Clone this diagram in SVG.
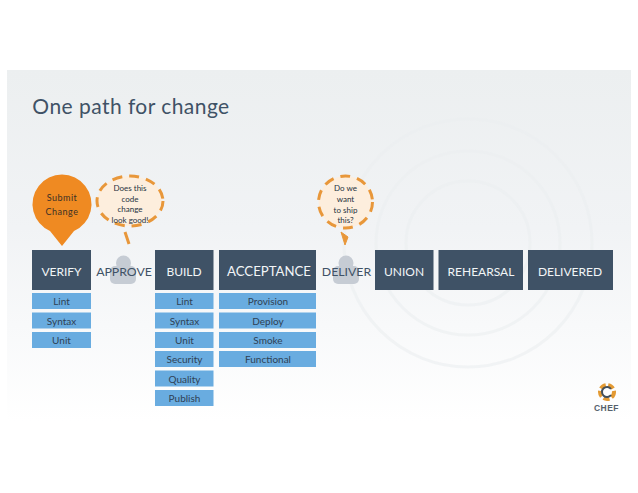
<svg xmlns="http://www.w3.org/2000/svg" width="638" height="493" viewBox="0 0 638 493">
<defs>
<linearGradient id="bg" x1="0" y1="0" x2="0" y2="1">
<stop offset="0" stop-color="#eceff0"/><stop offset="0.45" stop-color="#f1f3f5"/><stop offset="1" stop-color="#ffffff"/>
</linearGradient>
</defs>
<style>
text{font-family:"Lato","Liberation Sans",sans-serif;text-anchor:middle}
.stage{fill:#3f5266}
.stage-t{fill:#f2f5f7;font-size:12px}
.plain-t{fill:#3f5266;font-size:12.300px}
.sub{fill:#69ace0}
.sub-t{fill:#2f4154;font-size:10px}
.bubble{fill:#fdeedd;stroke:#e8973a;stroke-width:3;stroke-dasharray:10 7}
.tail{fill:none;stroke:#e8973a;stroke-width:3}
.b-t{fill:#26323d;font-size:8px}
.person{fill:#c6ccd4}
.wm{fill:none;stroke:#ebeef0;stroke-width:3;opacity:.6}
</style>
<rect width="638" height="493" fill="#fff"/>
<rect x="7" y="70" width="624" height="352" fill="url(#bg)"/>
<g id="watermark">
<circle class="wm" cx="468" cy="243" r="62"/>
<circle class="wm" cx="468" cy="243" r="92"/>
<circle class="wm" cx="468" cy="243" r="124"/>
</g>
<text x="131" y="114" style="font-size:21px;fill:#3f5266;letter-spacing:.45px">One path for change</text>
<g id="submit"><path d="M62 246 L50 231 A29.5 29.5 0 1 1 74 231 Z" fill="#ef8a22"/><text x="62" y="201" style="font-size:9px;fill:#3b3026;letter-spacing:.5px">Submit</text><text x="62" y="214.500" style="font-size:9px;fill:#3b3026;letter-spacing:.5px">Change</text></g>
<g id="approve-person"><circle class="person" cx="123.500" cy="263" r="7.500"/><rect class="person" x="110" y="266" width="26" height="18" rx="5"/></g>
<g id="deliver-person"><circle class="person" cx="346" cy="263" r="7.500"/><rect class="person" x="333" y="266" width="26" height="18" rx="5"/></g>
<g id="verify"><rect class="stage" x="32" y="250" width="59" height="40"/><text class="stage-t" x="61.500" y="276">VERIFY</text></g>
<g id="approve"><text class="plain-t" x="124" y="276">APPROVE</text></g>
<g id="build"><rect class="stage" x="155" y="250" width="58.500" height="40"/><text class="stage-t" x="184" y="276">BUILD</text></g>
<g id="acceptance"><rect class="stage" x="219" y="250" width="97" height="40"/><text class="stage-t" x="269" y="276" style="font-size:13.200px">ACCEPTANCE</text></g>
<g id="deliver"><text class="plain-t" x="346.500" y="276">DELIVER</text></g>
<g id="union"><rect class="stage" x="375" y="250" width="58.500" height="40"/><text class="stage-t" x="404" y="276">UNION</text></g>
<g id="rehearsal"><rect class="stage" x="438.500" y="250" width="84.500" height="40"/><text class="stage-t" x="481" y="276">REHEARSAL</text></g>
<g id="delivered"><rect class="stage" x="528" y="250" width="85" height="40"/><text class="stage-t" x="570" y="276">DELIVERED</text></g>
<g id="verify-lint"><rect class="sub" x="32" y="293" width="59" height="16"/><text class="sub-t" x="61.500" y="305">Lint</text></g>
<g id="verify-syntax"><rect class="sub" x="32" y="312.500" width="59" height="16"/><text class="sub-t" x="61.500" y="324.500">Syntax</text></g>
<g id="verify-unit"><rect class="sub" x="32" y="332" width="59" height="16"/><text class="sub-t" x="61.500" y="344">Unit</text></g>
<g id="build-lint"><rect class="sub" x="155" y="293" width="58.500" height="16"/><text class="sub-t" x="184.500" y="305">Lint</text></g>
<g id="build-syntax"><rect class="sub" x="155" y="312.500" width="58.500" height="16"/><text class="sub-t" x="184.500" y="324.500">Syntax</text></g>
<g id="build-unit"><rect class="sub" x="155" y="332" width="58.500" height="16"/><text class="sub-t" x="184.500" y="344">Unit</text></g>
<g id="build-security"><rect class="sub" x="155" y="351" width="58.500" height="16"/><text class="sub-t" x="184.500" y="363">Security</text></g>
<g id="build-quality"><rect class="sub" x="155" y="370.500" width="58.500" height="16"/><text class="sub-t" x="184.500" y="382.500">Quality</text></g>
<g id="build-publish"><rect class="sub" x="155" y="390" width="58.500" height="16"/><text class="sub-t" x="184.500" y="402">Publish</text></g>
<g id="acc-provision"><rect class="sub" x="219" y="293" width="97" height="16"/><text class="sub-t" x="268" y="305">Provision</text></g>
<g id="acc-deploy"><rect class="sub" x="219" y="312.500" width="97" height="16"/><text class="sub-t" x="268" y="324.500">Deploy</text></g>
<g id="acc-smoke"><rect class="sub" x="219" y="332" width="97" height="16"/><text class="sub-t" x="268" y="344">Smoke</text></g>
<g id="acc-functional"><rect class="sub" x="219" y="351" width="97" height="16"/><text class="sub-t" x="268" y="363">Functional</text></g>
<g id="code-bubble"><ellipse class="bubble" cx="130" cy="201" rx="33" ry="25"/><path class="tail" d="M125 232 L129 244"/><text class="b-t" x="130" y="191">Does this</text><text class="b-t" x="130" y="202">code</text><text class="b-t" x="130" y="212">change</text><text class="b-t" x="130" y="223">look good!</text></g>
<g id="ship-bubble"><ellipse class="bubble" cx="345.500" cy="202" rx="27" ry="26"/><path d="M341 232 L345 245 L348 237 Z" fill="#e8973a" stroke="#e8973a" stroke-width="1"/><text class="b-t" x="345.500" y="191">Do we</text><text class="b-t" x="345.500" y="202">want</text><text class="b-t" x="345.500" y="213">to ship</text><text class="b-t" x="345.500" y="223">this?</text></g>
<g id="chef-logo"><circle cx="607" cy="392" r="7" fill="none" stroke="#e39a33" stroke-width="4" stroke-dasharray="6 2.500"/><path d="M611 389 A5 5 0 1 0 611 395" fill="none" stroke="#43505c" stroke-width="2"/><text x="606.500" y="411" style="font-size:8.500px;font-weight:700;fill:#55616c;letter-spacing:.5px;font-family:'Liberation Sans',sans-serif">CHEF</text></g>
</svg>
